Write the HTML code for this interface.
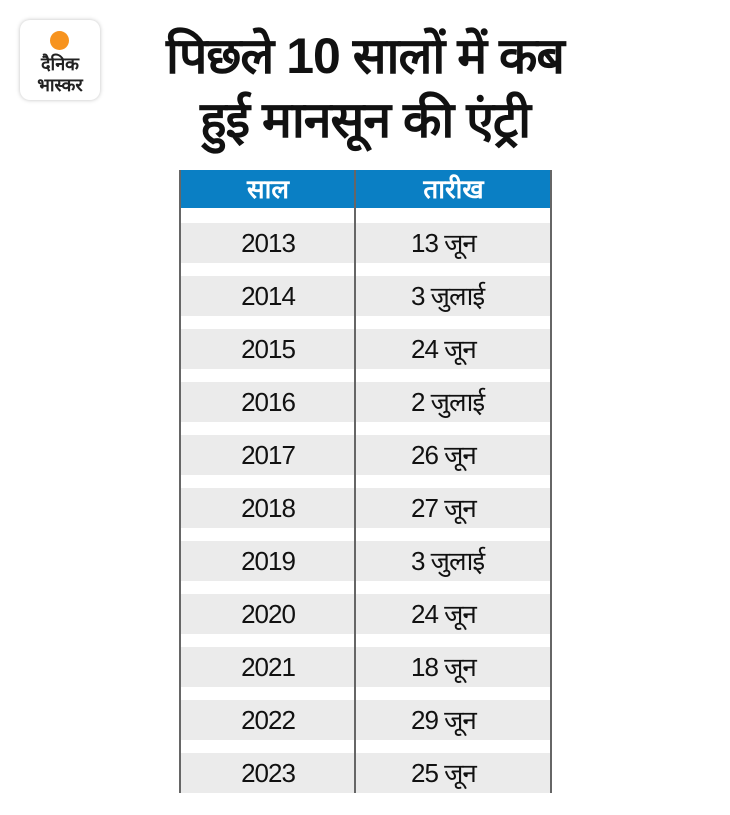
<!DOCTYPE html>
<html><head><meta charset="utf-8"><style>
body{margin:0;width:730px;height:815px;background:#fff;position:relative;overflow:hidden;font-family:"Liberation Sans","Noto Sans CJK SC",sans-serif}
.logo{position:absolute;left:20px;top:20px;width:80px;height:80px;border-radius:10px;background:#fff;box-shadow:0 0 4px rgba(0,0,0,.25)}
.dot{position:absolute;left:50px;top:31px;width:19px;height:19px;border-radius:50%;background:#f7931e}
.lt{position:absolute;left:20px;width:80px;text-align:center;font-weight:bold;font-size:18px;color:#222;line-height:20px}
.title{position:absolute;left:110px;width:510px;text-align:center;font-weight:bold;font-size:50px;line-height:64px;top:24px;color:#111;letter-spacing:-1px}
.v{position:absolute;top:170px;height:623px;width:2px;background:#666}
.hdr{position:absolute;left:180px;top:170px;width:372px;height:38px;background:#0a7fc4}
.h{position:absolute;top:170px;height:38px;line-height:38px;color:#fff;font-weight:bold;font-size:26px;text-align:center}
.row{position:absolute;left:181px;width:370px;height:40px;background:#ebebeb}
.c{position:absolute;height:40px;line-height:40px;font-size:26px;color:#111;letter-spacing:-1px}
</style></head><body>
<div class="logo"></div><div class="dot"></div>
<div class="lt" style="top:54px">दैनिक</div><div class="lt" style="top:75px">भास्कर</div>
<div class="title">पिछले 10 सालों में कब<br>हुई मानसून की एंट्री</div>
<div class="hdr"></div>
<div class="h" style="left:181px;width:174px">साल</div>
<div class="h" style="left:356px;width:195px">तारीख</div>
<div class="row" style="top:223px"></div><div class="c" style="top:223px;left:181px;width:174px;text-align:center">2013</div><div class="c" style="top:223px;left:411px">13 जून</div>
<div class="row" style="top:276px"></div><div class="c" style="top:276px;left:181px;width:174px;text-align:center">2014</div><div class="c" style="top:276px;left:411px">3 जुलाई</div>
<div class="row" style="top:329px"></div><div class="c" style="top:329px;left:181px;width:174px;text-align:center">2015</div><div class="c" style="top:329px;left:411px">24 जून</div>
<div class="row" style="top:382px"></div><div class="c" style="top:382px;left:181px;width:174px;text-align:center">2016</div><div class="c" style="top:382px;left:411px">2 जुलाई</div>
<div class="row" style="top:435px"></div><div class="c" style="top:435px;left:181px;width:174px;text-align:center">2017</div><div class="c" style="top:435px;left:411px">26 जून</div>
<div class="row" style="top:488px"></div><div class="c" style="top:488px;left:181px;width:174px;text-align:center">2018</div><div class="c" style="top:488px;left:411px">27 जून</div>
<div class="row" style="top:541px"></div><div class="c" style="top:541px;left:181px;width:174px;text-align:center">2019</div><div class="c" style="top:541px;left:411px">3 जुलाई</div>
<div class="row" style="top:594px"></div><div class="c" style="top:594px;left:181px;width:174px;text-align:center">2020</div><div class="c" style="top:594px;left:411px">24 जून</div>
<div class="row" style="top:647px"></div><div class="c" style="top:647px;left:181px;width:174px;text-align:center">2021</div><div class="c" style="top:647px;left:411px">18 जून</div>
<div class="row" style="top:700px"></div><div class="c" style="top:700px;left:181px;width:174px;text-align:center">2022</div><div class="c" style="top:700px;left:411px">29 जून</div>
<div class="row" style="top:753px"></div><div class="c" style="top:753px;left:181px;width:174px;text-align:center">2023</div><div class="c" style="top:753px;left:411px">25 जून</div>
<div class="v" style="left:179px"></div><div class="v" style="left:354px"></div><div class="v" style="left:550px"></div>
</body></html>
